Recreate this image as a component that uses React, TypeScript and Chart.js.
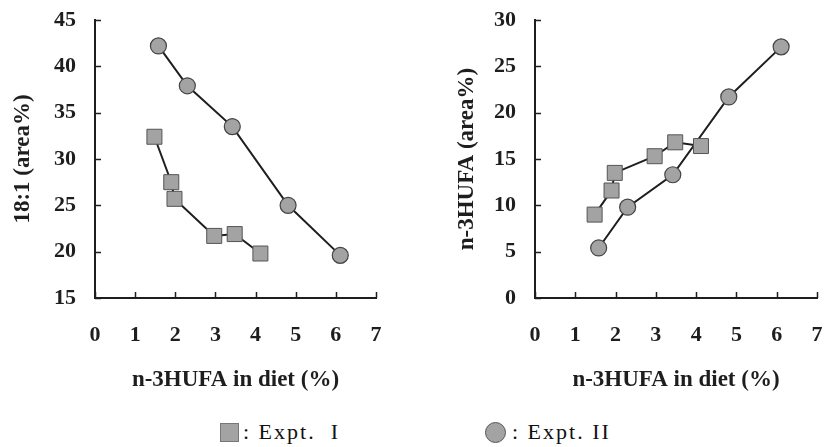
import React, { useEffect, useRef } from "react";
import { Chart, registerables } from "chart.js";

Chart.register(...registerables);

// x values: n-3HUFA in diet (%)
const xExptI = [1.48, 1.9, 1.98, 2.97, 3.48, 4.12];
const xExptII = [1.58, 2.3, 3.42, 4.81, 6.11];

// Left panel: 18:1 (area%)
const leftExptI = [32.4, 27.5, 25.7, 21.7, 21.9, 19.8];
const leftExptII = [42.2, 37.9, 33.5, 25.0, 19.6];

// Right panel: n-3HUFA (area%)
const rightExptI = [9.0, 11.6, 13.5, 15.3, 16.8, 16.4];
const rightExptII = [5.4, 9.8, 13.3, 21.7, 27.1];

const xTitle = "n-3HUFA in diet (%)";
const leftYTitle = "18:1 (area%)";
const rightYTitle = "n-3HUFA (area%)";
const legendI = "Expt. I";
const legendII = "Expt. II";

const FONT = "'Liberation Serif', 'Times New Roman', serif";
const INK = "#1e1e1e";
const MARK_FILL = "#a3a3a3";

const inwardTicks = {
  id: "inwardTicks",
  afterDraw(chart: any) {
    const { ctx, scales } = chart;
    const x = scales.x;
    const y = scales.y;
    ctx.save();
    ctx.strokeStyle = INK;
    ctx.lineWidth = 1.5;
    x.ticks.forEach((t: any) => {
      const px = Math.round(x.getPixelForValue(t.value)) + 0.5;
      ctx.beginPath();
      ctx.moveTo(px, x.top);
      ctx.lineTo(px, x.top - 6);
      ctx.stroke();
    });
    y.ticks.forEach((t: any) => {
      const py = Math.round(y.getPixelForValue(t.value)) + 0.5;
      ctx.beginPath();
      ctx.moveTo(y.right, py);
      ctx.lineTo(y.right + 6, py);
      ctx.stroke();
    });
    ctx.restore();
  },
};

type PanelProps = {
  left: number;
  width: number;
  height: number;
  yMin: number;
  yMax: number;
  yTitle: string;
  dataI: number[];
  dataII: number[];
  yAxisWidth: number;
  yTitlePad: number;
  padRight: number;
};

function Panel(p: PanelProps) {
  const ref = useRef<HTMLCanvasElement | null>(null);
  useEffect(() => {
    if (!ref.current) return;
    const chart = new Chart(ref.current, {
      type: "scatter",
      data: {
        datasets: [
          {
            label: legendI,
            data: xExptI.map((x, i) => ({ x, y: p.dataI[i] })),
            showLine: true,
            borderColor: INK,
            borderWidth: 2,
            pointStyle: "rect",
            pointRadius: 10.6,
            pointBackgroundColor: MARK_FILL,
            pointBorderColor: "#555",
            pointBorderWidth: 1,
          },
          {
            label: legendII,
            data: xExptII.map((x, i) => ({ x, y: p.dataII[i] })),
            showLine: true,
            borderColor: INK,
            borderWidth: 2,
            pointStyle: "circle",
            pointRadius: 8,
            pointBackgroundColor: MARK_FILL,
            pointBorderColor: "#444",
            pointBorderWidth: 1.2,
          },
        ],
      },
      options: {
        responsive: false,
        animation: false,
        devicePixelRatio: 1,
        layout: {
          autoPadding: false,
          padding: { top: 20, right: p.padRight, left: 0, bottom: 0 },
        },
        plugins: { legend: { display: false }, tooltip: { enabled: false } },
        scales: {
          x: {
            type: "linear",
            min: 0,
            max: 7,
            grid: { display: false, drawTicks: false },
            border: { display: true, color: INK, width: 2 },
            ticks: {
              stepSize: 1,
              color: INK,
              padding: 24,
              font: { family: FONT, size: 22, weight: "bold" },
            },
            title: {
              display: true,
              text: xTitle,
              color: INK,
              padding: { top: 0, bottom: 6 },
              font: { family: FONT, size: 23, weight: "bold" },
            },
            afterFit: (s: any) => {
              s.height = p.height - 298;
              s.paddingLeft = 0;
              s.paddingRight = 0;
            },
          },
          y: {
            type: "linear",
            min: p.yMin,
            max: p.yMax,
            grid: { display: false, drawTicks: false },
            border: { display: true, color: INK, width: 2 },
            ticks: {
              stepSize: 5,
              color: INK,
              padding: 19,
              font: { family: FONT, size: 22, weight: "bold" },
            },
            title: {
              display: true,
              text: p.yTitle,
              color: INK,
              padding: { top: p.yTitlePad, bottom: 0 },
              font: { family: FONT, size: 23, weight: "bold" },
            },
            afterFit: (s: any) => {
              s.width = p.yAxisWidth;
              s.paddingTop = 0;
              s.paddingBottom = 0;
            },
          },
        },
      },
      plugins: [inwardTicks],
    } as any);
    return () => chart.destroy();
  }, []);
  return (
    <div style={{ position: "absolute", left: p.left, top: 0, width: p.width, height: p.height }}>
      <canvas ref={ref} width={p.width} height={p.height} style={{ width: p.width, height: p.height }} />
    </div>
  );
}

const legendText: React.CSSProperties = {
  position: "absolute",
  top: 419,
  fontFamily: FONT,
  fontSize: 22,
  color: "#111",
  letterSpacing: "2px",
  whiteSpace: "pre",
  lineHeight: "26px",
};

export default function App() {
  return (
    <div
      style={{
        position: "absolute",
        left: 0,
        top: 0,
        width: 824,
        height: 447,
        background: "#ffffff",
        overflow: "hidden",
      }}
    >
      <Panel
        left={0}
        width={410}
        height={400}
        yMin={15}
        yMax={45}
        yTitle={leftYTitle}
        dataI={leftExptI}
        dataII={leftExptII}
        yAxisWidth={95}
        yTitlePad={9}
        padRight={34}
      />
      <Panel
        left={410}
        width={414}
        height={400}
        yMin={0}
        yMax={30}
        yTitle={rightYTitle}
        dataI={rightExptI}
        dataII={rightExptII}
        yAxisWidth={125}
        yTitlePad={43}
        padRight={7}
      />
      {/* legend */}
      <div
        style={{
          position: "absolute",
          left: 220,
          top: 423,
          width: 17,
          height: 17,
          background: MARK_FILL,
          border: "1px solid #777",
        }}
      />
      <div style={{ ...legendText, left: 243 }}>{": " + legendI.replace(" ", "  ")}</div>
      <div
        style={{
          position: "absolute",
          left: 485,
          top: 422,
          width: 19,
          height: 19,
          borderRadius: "50%",
          background: MARK_FILL,
          border: "1px solid #555",
        }}
      />
      <div style={{ ...legendText, left: 512 }}>{": " + legendII}</div>
    </div>
  );
}
